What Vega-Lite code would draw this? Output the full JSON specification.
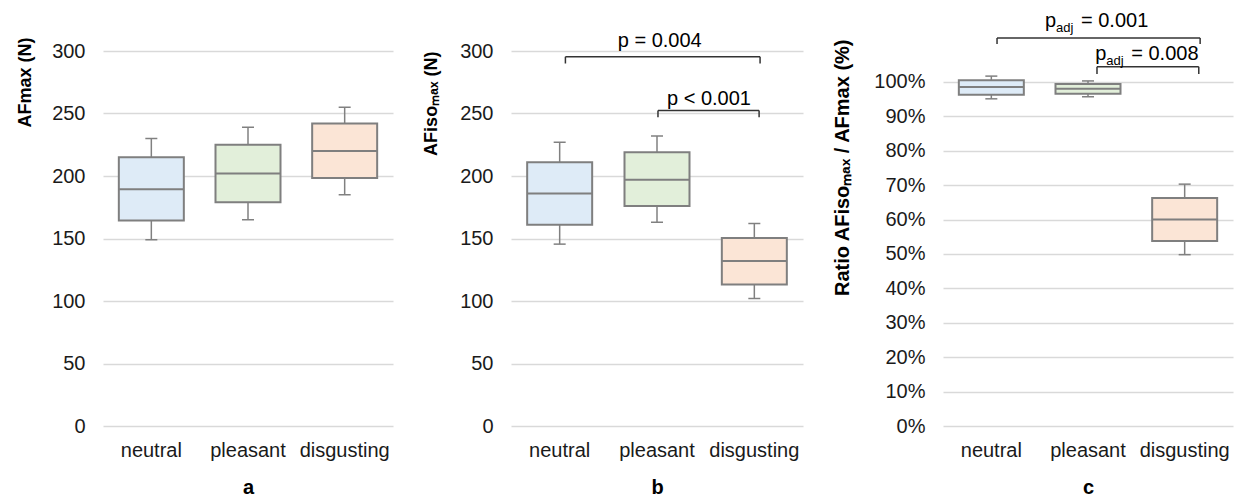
{
  "$schema": "https://vega.github.io/schema/vega-lite/v6.json",
  "padding": {"left": 16, "top": 10, "right": 5, "bottom": 5},
  "spacing": 29,
  "config": {
    "font": "Liberation Sans",
    "view": {"stroke": null},
    "axis": {
      "labelFont": "Liberation Sans",
      "titleFont": "Liberation Sans",
      "labelFontSize": 20,
      "labelColor": "#1a1a1a",
      "titleColor": "#000000",
      "titleFontSize": 18,
      "titleFontWeight": "bold",
      "domain": false,
      "ticks": false,
      "labelOverlap": false,
      "gridColor": "#d9d9d9",
      "gridWidth": 1.5
    },
    "axisY": {"labelPadding": 18, "grid": true, "titleAngle": 270, "titleAlign": "right", "titleBaseline": "alphabetic"},
    "axisX": {"labelPadding": 14, "grid": false, "labelAngle": 0, "titleFontSize": 20, "titlePadding": 17}
  },
  "datasets": {
    "boxes": [
      {"panel": "a", "cat": "neutral", "min": 149, "q1": 164.5, "med": 189.5, "q3": 215, "max": 230},
      {"panel": "a", "cat": "pleasant", "min": 165, "q1": 179, "med": 202, "q3": 225, "max": 239},
      {"panel": "a", "cat": "disgusting", "min": 185, "q1": 198.5, "med": 220, "q3": 242, "max": 255},
      {"panel": "b", "cat": "neutral", "min": 145.5, "q1": 161, "med": 186, "q3": 211, "max": 227},
      {"panel": "b", "cat": "pleasant", "min": 163, "q1": 176, "med": 197, "q3": 219, "max": 232},
      {"panel": "b", "cat": "disgusting", "min": 102, "q1": 113.3, "med": 132, "q3": 150.4, "max": 162},
      {"panel": "c", "cat": "neutral", "min": 0.951, "q1": 0.963, "med": 0.985, "q3": 1.005, "max": 1.017},
      {"panel": "c", "cat": "pleasant", "min": 0.957, "q1": 0.966, "med": 0.98, "q3": 0.994, "max": 1.003},
      {"panel": "c", "cat": "disgusting", "min": 0.498, "q1": 0.538, "med": 0.6, "q3": 0.663, "max": 0.703}
    ],
    "brackets": [
      {"panel": "b", "x1": 0.559, "x2": 2.559, "y": 295.4, "y0": 290},
      {"panel": "b", "x1": 1.51, "x2": 2.549, "y": 252.5, "y0": 247},
      {"panel": "c", "x1": 0.559, "x2": 2.66, "y": 1.128, "y0": 1.11},
      {"panel": "c", "x1": 1.593, "x2": 2.646, "y": 1.0445, "y0": 1.023}
    ],
    "labelsB": [
      {"x": 1.528, "y": 302.9, "label": "p = 0.004"},
      {"x": 2.034, "y": 256.8, "label": "p < 0.001"}
    ],
    "labelsC": [
      {"x": 1.055, "y": 1.1607, "p": "p", "sub": "adj", "rest": "= 0.001"},
      {"x": 1.575, "y": 1.064, "p": "p", "sub": "adj", "rest": "= 0.008"}
    ]
  },
  "hconcat": [
    {
      "width": 290,
      "height": 375,
      "data": {"name": "boxes"},
      "transform": [{"filter": "datum.panel == 'a'"}],
      "encoding": {
        "x": {"field": "cat", "type": "nominal", "sort": ["neutral", "pleasant", "disgusting"], "scale": {"paddingInner": 0, "paddingOuter": 0}, "axis": {"title": "a"}}
      },
      "layer": [
        {"mark": {"type": "rule", "color": "#808080", "strokeWidth": 1.5}, "encoding": {"y": {"field": "min", "type": "quantitative", "scale": {"domain": [0, 300], "nice": false}, "axis": {"title": "AFmax (N)", "values": [0, 50, 100, 150, 200, 250, 300], "tickCount": 20, "labelOverlap": false, "titlePadding": 21, "titleY": -14}}, "y2": {"field": "max"}}},
        {"mark": {"type": "tick", "color": "#808080", "size": 12, "thickness": 1.5, "opacity": 1}, "encoding": {"y": {"field": "min", "type": "quantitative"}}},
        {"mark": {"type": "tick", "color": "#808080", "size": 12, "thickness": 1.5, "opacity": 1}, "encoding": {"y": {"field": "max", "type": "quantitative"}}},
        {"mark": {"type": "bar", "size": 65, "stroke": "#7f7f7f", "strokeWidth": 2, "opacity": 1}, "encoding": {"y": {"field": "q1", "type": "quantitative"}, "y2": {"field": "q3"}, "color": {"field": "cat", "type": "nominal", "scale": {"domain": ["neutral", "pleasant", "disgusting"], "range": ["#deebf7", "#e2efda", "#fbe5d6"]}, "legend": null}}},
        {"mark": {"type": "tick", "color": "#7f7f7f", "size": 65, "thickness": 2, "opacity": 1}, "encoding": {"y": {"field": "med", "type": "quantitative"}}}
      ]
    },
    {
      "width": 292,
      "height": 375,
      "layer": [
        {
          "data": {"name": "boxes"},
          "transform": [{"filter": "datum.panel == 'b'"}],
          "encoding": {
            "x": {"field": "cat", "type": "nominal", "sort": ["neutral", "pleasant", "disgusting"], "scale": {"paddingInner": 0, "paddingOuter": 0}, "axis": {"title": "b"}}
          },
          "layer": [
            {"mark": {"type": "rule", "color": "#808080", "strokeWidth": 1.5}, "encoding": {"y": {"field": "min", "type": "quantitative", "scale": {"domain": [0, 300], "nice": false}, "axis": {"title": "AFisoₘₐₓ (N)", "values": [0, 50, 100, 150, 200, 250, 300], "tickCount": 20, "labelOverlap": false, "titlePadding": 23, "titleY": 0}}, "y2": {"field": "max"}}},
            {"mark": {"type": "tick", "color": "#808080", "size": 12, "thickness": 1.5, "opacity": 1}, "encoding": {"y": {"field": "min", "type": "quantitative"}}},
            {"mark": {"type": "tick", "color": "#808080", "size": 12, "thickness": 1.5, "opacity": 1}, "encoding": {"y": {"field": "max", "type": "quantitative"}}},
            {"mark": {"type": "bar", "size": 65, "stroke": "#7f7f7f", "strokeWidth": 2, "opacity": 1}, "encoding": {"y": {"field": "q1", "type": "quantitative"}, "y2": {"field": "q3"}, "color": {"field": "cat", "type": "nominal", "scale": {"domain": ["neutral", "pleasant", "disgusting"], "range": ["#deebf7", "#e2efda", "#fbe5d6"]}, "legend": null}}},
            {"mark": {"type": "tick", "color": "#7f7f7f", "size": 65, "thickness": 2, "opacity": 1}, "encoding": {"y": {"field": "med", "type": "quantitative"}}}
          ]
        },
        {
          "encoding": {
            "x": {"field": "x1", "type": "quantitative", "scale": {"domain": [0, 3], "nice": false}, "axis": null}
          },
          "layer": [
            {"data": {"name": "brackets"}, "transform": [{"filter": "datum.panel == 'b'"}], "mark": {"type": "rule", "color": "#333333", "strokeWidth": 1.5}, "encoding": {"x2": {"field": "x2"}, "y": {"field": "y", "type": "quantitative", "axis": {"title": "AFisoₘₐₓ (N)", "values": [0, 50, 100, 150, 200, 250, 300], "tickCount": 20, "labelOverlap": false, "titlePadding": 23, "titleY": 0}}}},
            {"data": {"name": "brackets"}, "transform": [{"filter": "datum.panel == 'b'"}], "mark": {"type": "rule", "color": "#333333", "strokeWidth": 1.5}, "encoding": {"y": {"field": "y0", "type": "quantitative"}, "y2": {"field": "y"}}},
            {"data": {"name": "brackets"}, "transform": [{"filter": "datum.panel == 'b'"}], "mark": {"type": "rule", "color": "#333333", "strokeWidth": 1.5}, "encoding": {"x": {"field": "x2", "type": "quantitative"}, "y": {"field": "y0", "type": "quantitative"}, "y2": {"field": "y"}}},
            {"data": {"name": "labelsB"}, "mark": {"type": "text", "fontSize": 20, "color": "#000000", "align": "center", "baseline": "alphabetic"}, "encoding": {"x": {"field": "x", "type": "quantitative"}, "y": {"field": "y", "type": "quantitative"}, "text": {"field": "label"}}}
          ]
        }
      ],
      "resolve": {"scale": {"x": "independent"}}
    },
    {
      "width": 290,
      "height": 375,
      "layer": [
        {
          "data": {"name": "boxes"},
          "transform": [{"filter": "datum.panel == 'c'"}],
          "encoding": {
            "x": {"field": "cat", "type": "nominal", "sort": ["neutral", "pleasant", "disgusting"], "scale": {"paddingInner": 0, "paddingOuter": 0}, "axis": {"title": "c"}}
          },
          "layer": [
            {"mark": {"type": "rule", "color": "#808080", "strokeWidth": 1.5}, "encoding": {"y": {"field": "min", "type": "quantitative", "scale": {"domain": [0, 1.09], "nice": false}, "axis": {"title": "Ratio AFisoₘₐₓ / AFmax (%)", "format": ".0%", "values": [0, 0.1, 0.2, 0.3, 0.4, 0.5, 0.6, 0.7, 0.8, 0.9, 1.0], "tickCount": 20, "labelOverlap": false, "titleFontSize": 20, "titlePadding": 25, "titleY": -12}}, "y2": {"field": "max"}}},
            {"mark": {"type": "tick", "color": "#808080", "size": 12, "thickness": 1.5, "opacity": 1}, "encoding": {"y": {"field": "min", "type": "quantitative"}}},
            {"mark": {"type": "tick", "color": "#808080", "size": 12, "thickness": 1.5, "opacity": 1}, "encoding": {"y": {"field": "max", "type": "quantitative"}}},
            {"mark": {"type": "bar", "size": 65, "stroke": "#7f7f7f", "strokeWidth": 2, "opacity": 1}, "encoding": {"y": {"field": "q1", "type": "quantitative"}, "y2": {"field": "q3"}, "color": {"field": "cat", "type": "nominal", "scale": {"domain": ["neutral", "pleasant", "disgusting"], "range": ["#deebf7", "#e2efda", "#fbe5d6"]}, "legend": null}}},
            {"mark": {"type": "tick", "color": "#7f7f7f", "size": 65, "thickness": 2, "opacity": 1}, "encoding": {"y": {"field": "med", "type": "quantitative"}}}
          ]
        },
        {
          "encoding": {
            "x": {"field": "x1", "type": "quantitative", "scale": {"domain": [0, 3], "nice": false}, "axis": null}
          },
          "layer": [
            {"data": {"name": "brackets"}, "transform": [{"filter": "datum.panel == 'c'"}], "mark": {"type": "rule", "color": "#333333", "strokeWidth": 1.5}, "encoding": {"x2": {"field": "x2"}, "y": {"field": "y", "type": "quantitative", "axis": {"title": "Ratio AFisoₘₐₓ / AFmax (%)", "format": ".0%", "values": [0, 0.1, 0.2, 0.3, 0.4, 0.5, 0.6, 0.7, 0.8, 0.9, 1.0], "tickCount": 20, "labelOverlap": false, "titleFontSize": 20, "titlePadding": 25, "titleY": -12}}}},
            {"data": {"name": "brackets"}, "transform": [{"filter": "datum.panel == 'c'"}], "mark": {"type": "rule", "color": "#333333", "strokeWidth": 1.5}, "encoding": {"y": {"field": "y0", "type": "quantitative"}, "y2": {"field": "y"}}},
            {"data": {"name": "brackets"}, "transform": [{"filter": "datum.panel == 'c'"}], "mark": {"type": "rule", "color": "#333333", "strokeWidth": 1.5}, "encoding": {"x": {"field": "x2", "type": "quantitative"}, "y": {"field": "y0", "type": "quantitative"}, "y2": {"field": "y"}}},
            {"data": {"name": "labelsC"}, "mark": {"type": "text", "fontSize": 20, "color": "#000000", "align": "left", "baseline": "alphabetic"}, "encoding": {"x": {"field": "x", "type": "quantitative"}, "y": {"field": "y", "type": "quantitative"}, "text": {"field": "p"}}},
            {"data": {"name": "labelsC"}, "mark": {"type": "text", "fontSize": 13, "color": "#000000", "align": "left", "baseline": "alphabetic", "dx": 11, "dy": 5}, "encoding": {"x": {"field": "x", "type": "quantitative"}, "y": {"field": "y", "type": "quantitative"}, "text": {"field": "sub"}}},
            {"data": {"name": "labelsC"}, "mark": {"type": "text", "fontSize": 20, "color": "#000000", "align": "left", "baseline": "alphabetic", "dx": 36}, "encoding": {"x": {"field": "x", "type": "quantitative"}, "y": {"field": "y", "type": "quantitative"}, "text": {"field": "rest"}}}
          ]
        }
      ],
      "resolve": {"scale": {"x": "independent"}}
    }
  ]
}
